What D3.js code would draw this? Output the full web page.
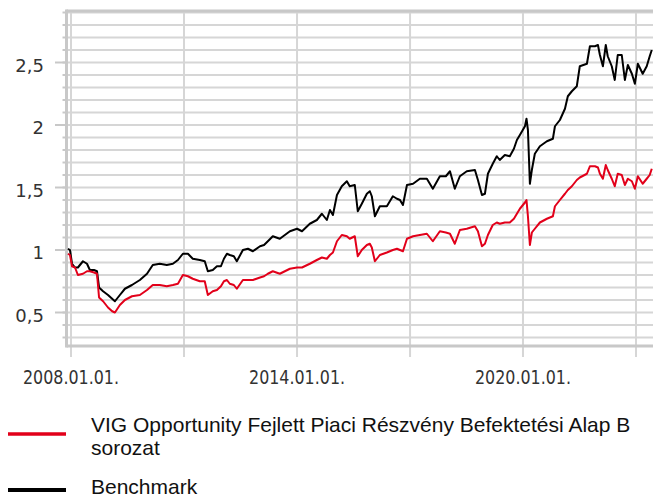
<!DOCTYPE html>
<html>
<head>
<meta charset="utf-8">
<script src="https://cdn.jsdelivr.net/npm/d3@7"></script>
<style>
    body { margin: 0; background: #fff; }
    .ylab { font-family: "DejaVu Sans", Verdana, sans-serif; font-size: 18px; fill: #333; }
    .xlab { font-family: "DejaVu Sans Condensed", "DejaVu Sans", sans-serif; font-size: 20px; fill: #333; }
    .leg { font-family: "Liberation Sans", Arial, sans-serif; font-size: 21px; fill: #111; }
</style>
</head>
<body>
<div id="main"></div>
<script>
var dates = ["2007-12-02","2007-12-22","2008-01-11","2008-02-09","2008-03-08","2008-04-26","2008-06-04","2008-07-02","2008-08-11","2008-09-09",
    "2008-09-29","2008-11-07","2008-12-25","2009-02-03","2009-03-02","2009-04-19","2009-06-07","2009-08-14","2009-10-30","2010-01-07",
    "2010-03-04","2010-05-11","2010-07-18","2010-09-15","2010-11-03","2010-12-21","2011-02-08","2011-03-27","2011-06-03","2011-07-21",
    "2011-08-20","2011-10-07","2011-11-16","2011-12-25","2012-01-23","2012-02-21","2012-03-20","2012-04-28","2012-05-27","2012-07-25",
    "2012-09-12","2012-10-30","2013-01-07","2013-02-15","2013-03-24","2013-05-11","2013-07-18","2013-09-05","2013-10-24","2014-01-01",
    "2014-02-18","2014-05-05","2014-07-12","2014-08-30","2014-10-17","2014-11-16","2014-12-15","2015-01-23","2015-03-11","2015-04-29",
    "2015-05-27","2015-07-15","2015-08-13","2015-09-21","2015-11-09","2015-12-08","2015-12-27","2016-01-26","2016-03-14","2016-05-21",
    "2016-07-18","2016-08-27","2016-09-25","2016-10-24","2016-12-02","2017-01-30","2017-04-06","2017-06-13","2017-08-10","2017-10-17",
    "2017-12-14","2018-01-23","2018-03-11","2018-04-29","2018-07-05","2018-09-22","2018-10-21","2018-11-29","2018-12-28","2019-01-26",
    "2019-03-14","2019-04-22","2019-05-21","2019-07-09","2019-08-26","2019-10-05","2019-11-03","2019-12-02","2020-01-20","2020-02-04",
    "2020-02-18","2020-03-08","2020-03-27","2020-04-25","2020-06-13","2020-08-20","2020-10-17","2020-11-06","2020-12-24","2021-02-11",
    "2021-03-11","2021-04-19","2021-06-06","2021-07-05","2021-09-12","2021-10-11","2021-11-29","2021-12-28","2022-01-16","2022-02-14",
    "2022-03-14","2022-04-02","2022-05-11","2022-06-09","2022-07-08","2022-08-16","2022-09-15","2022-10-14","2022-11-22","2022-12-21",
    "2023-01-19","2023-03-07","2023-04-15","2023-05-14","2023-06-03"];

var benchmark = [1.01,1.00,0.89,0.86,0.86,0.91,0.89,0.84,0.84,0.83,
    0.70,0.67,0.64,0.61,0.59,0.64,0.69,0.72,0.76,0.81,
    0.88,0.89,0.88,0.89,0.92,0.97,0.97,0.93,0.92,0.91,
    0.83,0.84,0.87,0.87,0.93,0.97,0.96,0.95,0.91,1.00,
    1.01,0.99,1.03,1.04,1.07,1.11,1.09,1.12,1.15,1.17,
    1.15,1.21,1.24,1.29,1.24,1.32,1.28,1.44,1.51,1.55,
    1.51,1.52,1.31,1.37,1.45,1.47,1.43,1.27,1.35,1.35,
    1.43,1.41,1.40,1.36,1.52,1.53,1.57,1.57,1.49,1.59,
    1.59,1.63,1.49,1.59,1.63,1.64,1.56,1.44,1.45,1.61,
    1.69,1.75,1.72,1.76,1.75,1.81,1.88,1.92,1.99,2.05,
    1.96,1.53,1.64,1.77,1.83,1.87,1.89,1.99,2.04,2.13,
    2.23,2.27,2.31,2.47,2.49,2.63,2.63,2.64,2.56,2.47,
    2.64,2.55,2.47,2.36,2.56,2.56,2.36,2.48,2.41,2.33,
    2.49,2.41,2.47,2.55,2.60];

var fund = [0.97,0.96,0.87,0.86,0.80,0.81,0.83,0.83,0.82,0.81,
    0.62,0.59,0.54,0.51,0.50,0.56,0.60,0.63,0.64,0.68,
    0.72,0.72,0.71,0.72,0.73,0.80,0.79,0.77,0.75,0.75,
    0.64,0.67,0.68,0.71,0.75,0.76,0.73,0.72,0.69,0.76,
    0.76,0.76,0.78,0.79,0.81,0.83,0.81,0.83,0.85,0.86,
    0.86,0.89,0.92,0.94,0.93,0.96,0.98,1.07,1.12,1.11,
    1.09,1.11,0.95,1.00,1.04,1.05,1.02,0.91,0.96,0.98,
    1.00,1.01,1.00,0.99,1.09,1.11,1.12,1.13,1.07,1.15,
    1.14,1.13,1.05,1.16,1.17,1.19,1.15,1.03,1.05,1.12,
    1.20,1.22,1.21,1.22,1.22,1.25,1.29,1.33,1.38,1.40,
    1.27,1.04,1.14,1.17,1.22,1.25,1.27,1.35,1.40,1.45,
    1.48,1.51,1.56,1.58,1.61,1.67,1.67,1.66,1.61,1.57,
    1.68,1.64,1.57,1.51,1.61,1.60,1.52,1.57,1.55,1.49,
    1.59,1.53,1.57,1.60,1.65];

var yLabelTicks = [0.5, 1, 1.5, 2, 2.5];
var yGridTicks = d3.range(3, 30).map(function(d){ return d / 10; });
var xTickDates = ["2008-01-01","2011-01-01","2014-01-01","2017-01-01","2020-01-01","2023-01-01"];
var xLabelDates = ["2008-01-01","2014-01-01","2020-01-01"];

var seriesNames = ["VIG Opportunity Fejlett Piaci Részvény Befektetési Alap B", "sorozat", "Benchmark"];

var ctx = {
    w: 653,
    h: 499,
    left: 66.5,
    right: 653,
    top: 11,
    bottom: 346,
    grid: "#d6d6d6",
    axis: "#c8c8c8",
    red: "#e2001a",
};

var parse = d3.utcParse("%Y-%m-%d");
var fmtLab = d3.utcFormat("%Y.%m.%d.");

var createViz = function(){
    var svgEl = d3.select("#main").append("svg")
        .attr("width", ctx.w)
        .attr("height", ctx.h);

    var x = d3.scaleUtc()
        .domain([parse("2008-01-01"), parse("2023-01-01")])
        .range([71, 636]);
    var y = d3.scaleLinear()
        .domain([0.5, 2.5])
        .range([312.5, 62.5]);

    // horizontal grid
    svgEl.append("g")
        .selectAll("line")
        .data(yGridTicks)
        .enter().append("line")
        .attr("x1", ctx.left)
        .attr("x2", ctx.right)
        .attr("y1", function(d){ return y(d); })
        .attr("y2", function(d){ return y(d); })
        .attr("stroke", ctx.grid)
        .attr("stroke-width", 2);

    // vertical grid + ticks
    svgEl.append("g")
        .selectAll("line")
        .data(xTickDates.map(parse))
        .enter().append("line")
        .attr("x1", function(d){ return x(d); })
        .attr("x2", function(d){ return x(d); })
        .attr("y1", ctx.top)
        .attr("y2", ctx.bottom + 11)
        .attr("stroke", ctx.grid)
        .attr("stroke-width", 2);

    // minor y ticks
    svgEl.append("g")
        .selectAll("line")
        .data(yGridTicks)
        .enter().append("line")
        .attr("x1", 62.5)
        .attr("x2", ctx.left)
        .attr("y1", function(d){ return y(d); })
        .attr("y2", function(d){ return y(d); })
        .attr("stroke", ctx.axis)
        .attr("stroke-width", 2);

    // major y ticks
    svgEl.append("g")
        .selectAll("line")
        .data(yLabelTicks)
        .enter().append("line")
        .attr("x1", 55)
        .attr("x2", ctx.left)
        .attr("y1", function(d){ return y(d); })
        .attr("y2", function(d){ return y(d); })
        .attr("stroke", ctx.axis)
        .attr("stroke-width", 2);

    // frame: left, top, bottom
    svgEl.append("line")
        .attr("x1", ctx.left).attr("x2", ctx.left)
        .attr("y1", ctx.top - 1.5).attr("y2", ctx.bottom + 1.5)
        .attr("stroke", ctx.axis).attr("stroke-width", 3);
    svgEl.append("line")
        .attr("x1", ctx.left).attr("x2", ctx.right)
        .attr("y1", ctx.top).attr("y2", ctx.top)
        .attr("stroke", ctx.axis).attr("stroke-width", 3);
    svgEl.append("line")
        .attr("x1", ctx.left).attr("x2", ctx.right)
        .attr("y1", ctx.bottom).attr("y2", ctx.bottom)
        .attr("stroke", ctx.axis).attr("stroke-width", 3);

    // y labels
    svgEl.append("g")
        .selectAll("text")
        .data(yLabelTicks)
        .enter().append("text")
        .attr("class", "ylab")
        .attr("x", 44)
        .attr("y", function(d){ return y(d) + 9; })
        .attr("text-anchor", "end")
        .text(function(d){ return String(d).replace(".", ","); });

    // x labels
    svgEl.append("g")
        .selectAll("text")
        .data(xLabelDates.map(parse))
        .enter().append("text")
        .attr("class", "xlab")
        .attr("x", function(d){ return x(d) - 48; })
        .attr("y", 384)
        .attr("textLength", 96)
        .attr("lengthAdjust", "spacingAndGlyphs")
        .text(function(d){ return fmtLab(d); });

    // clip
    svgEl.append("clipPath").attr("id", "plotclip")
        .append("rect")
        .attr("x", ctx.left)
        .attr("y", ctx.top)
        .attr("width", ctx.right - ctx.left)
        .attr("height", ctx.bottom - ctx.top);

    var parsed = dates.map(parse);
    var line = d3.line()
        .x(function(d){ return x(d[0]); })
        .y(function(d){ return y(d[1]); });

    var plotG = svgEl.append("g").attr("clip-path", "url(#plotclip)");
    plotG.append("path")
        .datum(d3.zip(parsed, benchmark))
        .attr("d", line)
        .attr("fill", "none")
        .attr("stroke", "#000")
        .attr("stroke-width", 2)
        .attr("stroke-linejoin", "round");
    plotG.append("path")
        .datum(d3.zip(parsed, fund))
        .attr("d", line)
        .attr("fill", "none")
        .attr("stroke", ctx.red)
        .attr("stroke-width", 2)
        .attr("stroke-linejoin", "round");

    // legend
    var legG = svgEl.append("g");
    legG.append("line")
        .attr("x1", 8).attr("x2", 66)
        .attr("y1", 434).attr("y2", 434)
        .attr("stroke", ctx.red).attr("stroke-width", 3.5);
    legG.append("text").attr("class", "leg")
        .attr("x", 91).attr("y", 432)
        .text(seriesNames[0]);
    legG.append("text").attr("class", "leg")
        .attr("x", 91).attr("y", 455)
        .text(seriesNames[1]);
    legG.append("line")
        .attr("x1", 8).attr("x2", 66)
        .attr("y1", 490).attr("y2", 490)
        .attr("stroke", "#000").attr("stroke-width", 4);
    legG.append("text").attr("class", "leg")
        .attr("x", 91).attr("y", 494)
        .text(seriesNames[2]);
};

createViz();
</script>
</body>
</html>
